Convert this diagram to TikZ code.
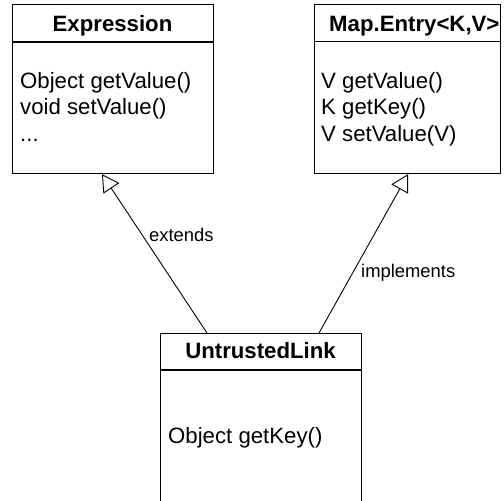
\documentclass[tikz,border=0pt]{standalone}
\usepackage{fontspec}
\setmainfont{Liberation Sans}
\usetikzlibrary{arrows.meta}
\begin{document}
\begin{tikzpicture}[x=1pt,y=-1pt,
  box/.style={draw, line width=1.2pt, rectangle, inner sep=0pt, anchor=north west},
  body/.style={font=\fontsize{22.2}{26.6}\selectfont, inner sep=0pt, anchor=base west},
  head/.style={font=\fontsize{22.2}{26.6}\selectfont\bfseries, inner sep=0pt, anchor=base},
  lbl/.style={font=\fontsize{18.4}{22}\selectfont, inner sep=0pt, anchor=base west},
  sep/.style={line width=1.2pt},
  conn/.style={line width=0.9pt, -{Triangle[open, length=17pt, width=19pt]}}]
\clip (0,0) rectangle (504,501);
\fill[white] (0,0) rectangle (504,501);
% boxes
\node[box, minimum width=201pt, minimum height=169pt] (expr) at (12,4) {};
\node[box, minimum width=186pt, minimum height=169pt] (mape) at (314,4) {};
\node[box, minimum width=201pt, minimum height=200pt] (ul) at (160,333) {};
% compartment lines
\draw[sep] ([yshift=-38pt]expr.north west) -- ([yshift=-38pt]expr.north east);
\draw[sep] ([yshift=-37.5pt]mape.north west) -- ([yshift=-37.5pt]mape.north east);
\draw[sep] ([yshift=-37pt]ul.north west) -- ([yshift=-37pt]ul.north east);
% headers
\node[head] (exprh) at (112.5,31) {Expression};
\node[head, anchor=base west] (mapeh) at (329,31) {Map.Entry<K,V>};
\node[head] (ulh) at (260.5,358) {UntrustedLink};
% bodies
\node[body] (e1) at (20,88) {Object getValue()};
\node[body] (e2) at (20,114) {void setValue()};
\node[body] (e3) at (20,141) {...};
\node[body] (m1) at (321,88) {V getValue()};
\node[body] (m2) at (321,114) {K getKey()};
\node[body] (m3) at (321,141) {V setValue(V)};
\node[body] (u1) at (168,443) {Object getKey()};
% connectors
\draw[conn] ([xshift=47pt]ul.north west) -- ([xshift=90pt]expr.south west);
\draw[conn] ([xshift=159pt]ul.north west) -- ([xshift=94pt]mape.south west);
% labels
\node[lbl] (lext) at (149,241) {extends};
\node[lbl] (limp) at (361,277) {implements};
\end{tikzpicture}
\end{document}
